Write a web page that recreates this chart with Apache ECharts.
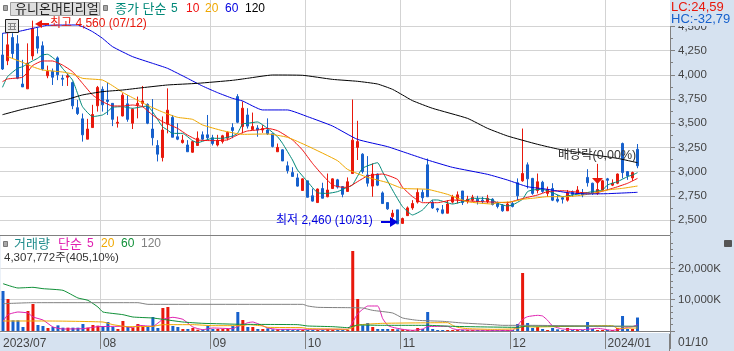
<!DOCTYPE html>
<html>
<head>
<meta charset="utf-8">
<style>
html,body{margin:0;padding:0;background:#d6e2f0;}
#main{width:734px;height:351px;}
</style>
<script src="https://cdn.jsdelivr.net/npm/echarts@6/dist/echarts.min.js"></script>
</head>
<body>
<div id="main"></div>
<script>
// 일봉 [시가, 종가, 저가, 고가]
var candles = [
[4205,4060,4050,4430],[4145,4310,4100,4430],[4385,4220,4170,4430],[4320,3965,3955,4410],[3905,3875,3875,4155],
[3855,4120,3855,4325],[4195,4480,4155,4560],[4395,4275,4220,4490],[4300,4060,4045,4345],[3990,4035,3965,4095],
[4035,3975,3895,4065],[4175,4000,3945,4190],[3965,3955,3885,4000],[3975,3990,3885,4010],[3920,3680,3645,3930],
[3660,3600,3585,3740],[3545,3380,3310,3600],[3335,3440,3335,3545],[3455,3590,3455,3690],[3680,3870,3620,3885],
[3850,3690,3620,3880],[3740,3725,3585,3920],[3705,3540,3470,3705],[3500,3510,3455,3570],[3575,3790,3570,3810],
[3700,3540,3515,3790],[3500,3645,3440,3655],[3690,3705,3550,3775],[3705,3730,3670,3885],[3695,3500,3490,3705],
[3440,3350,3270,3750],[3270,3180,3105,3325],[3145,3430,3105,3570],[3490,3635,3395,3860],[3560,3355,3355,3585],
[3360,3335,3325,3500],[3300,3325,3290,3380],[3275,3205,3205,3325],[3200,3310,3195,3320],[3270,3345,3270,3415],
[3380,3335,3325,3415],[3380,3350,3325,3585],[3350,3290,3270,3380],[3275,3320,3260,3380],[3310,3370,3290,3380],
[3345,3405,3325,3415],[3455,3425,3345,3500],[3775,3510,3500,3800],[3465,3655,3395,3725],[3585,3470,3445,3655],
[3435,3465,3435,3610],[3450,3430,3360,3480],[3430,3445,3400,3480],[3430,3390,3380,3550],[3390,3260,3250,3390],
[3205,3250,3205,3290],[3225,3110,3110,3230],[3060,3010,2980,3105],[2990,2950,2950,3045],[2935,2850,2845,2980],
[2805,2925,2805,2930],[2905,2735,2735,2905],[2750,2695,2690,2825],[2680,2820,2680,2825],[2825,2725,2725,2885],
[2740,2810,2735,2980],[2825,2925,2820,2930],[2915,2840,2825,2925],[2845,2765,2735,2850],[2795,2895,2795,2940],
[2980,3325,2980,3745],[3250,3310,3120,3525],[3180,3000,2980,3190],[2965,2880,2845,3160],[2850,2975,2740,3085],
[2975,2860,2850,2980],[2780,2670,2670,2795],[2680,2615,2605,2680],[2535,2570,2465,2605],[2605,2460,2460,2605],
[2465,2515,2460,2525],[2545,2625,2545,2640],[2625,2670,2605,2705],[2685,2785,2670,2825],[2785,2730,2690,2815],
[3070,2740,2740,3135],[2685,2625,2615,2705],[2615,2605,2580,2625],[2605,2570,2560,2655],[2570,2665,2570,2705],
[2685,2740,2670,2760],[2715,2760,2670,2795],[2800,2680,2655,2800],[2690,2715,2670,2750],[2705,2735,2690,2760],
[2715,2690,2660,2750],[2705,2690,2670,2740],[2690,2725,2670,2760],[2715,2660,2650,2725],[2670,2640,2620,2690],
[2650,2595,2585,2665],[2595,2665,2595,2690],[2670,2640,2630,2690],[2885,2750,2705,2930],[2905,2980,2895,3445],
[3070,2925,2825,3095],[2930,2775,2760,2935],[2805,2895,2775,2980],[2890,2795,2780,2905],[2775,2815,2740,2845],
[2825,2705,2695,2880],[2715,2695,2680,2760],[2730,2715,2670,2740],[2705,2780,2690,2810],[2785,2765,2740,2805],
[2775,2810,2765,2850],[2775,2760,2735,2820],[2940,2885,2845,3025],[2880,2775,2760,2885],[2775,2815,2760,3080],
[2810,2905,2805,2915],[2925,2910,2810,2935],[2860,2880,2850,2920],[2880,2975,2870,2980],[3290,2990,2930,3300],
[3000,2955,2915,3005],[2935,2990,2905,3000],[3230,3060,3035,3285]
];

// 거래량 (K주)
var volumes = [
12780,10225,3410,3410,1280,6390,8625,1915,1600,960,1280,1810,1065,1065,1065,1065,2235,1065,1915,1705,
1600,2875,1280,640,3195,1280,960,2235,1490,1280,4470,960,7350,7670,1600,1280,640,640,960,425,
425,1600,640,640,640,640,1600,6070,3515,1280,1280,640,640,850,530,530,530,530,110,110,
110,110,110,110,110,640,110,110,110,110,25560,10225,1810,2555,1280,640,640,640,640,530,
530,110,110,960,640,6070,640,320,320,320,110,110,110,110,110,60,60,110,110,110,
110,110,110,2235,18530,2555,960,1280,640,320,960,530,110,960,320,320,110,2875,640,320,
320,320,110,960,4790,640,640,4308
];

// 이동평균 [봉 번호, 값] - 그림에서 읽은 값
var ma5 = [[0,3871],[1,3981],[3,4067],[4,4084],[6,4143],[7,4170],[8,4205],[9,4212],[11,4136],[12,4067],[14,3946],[15,3809],[16,3671],[18,3568],[20,3585],[21,3619],[22,3664],[24,3671],[26,3654],[28,3671],[29,3678],[30,3619],[32,3464],[33,3430],[34,3395],[36,3395],[38,3320],[39,3299],[42,3344],[44,3344],[46,3368],[47,3395],[48,3492],
[49,3499],[51,3513],[53,3447],[55,3361],[56,3292],[58,3120],[59,3017],[61,2896],[63,2782],[65,2775],[67,2793],[69,2838],[70,2862],[72,3034],[75,3092],[76,2999],[78,2810],[80,2638],[82,2552],[84,2603],[86,2707],[87,2707],[90,2665],[92,2689],[94,2724],[96,2724],
[98,2707],[99,2672],[101,2645],[102,2655],[104,2714],[105,2793],[106,2810],[108,2817],[110,2782],[112,2741],[114,2758],[116,2775],[118,2793],[120,2810],[121,2862],[123,2896],[125,2948],[126,2965],[127,2989]];
var ma10 = [[0,3929],[1,3957],[4,3974],[5,4026],[6,4095],[8,4143],[10,4143],[12,4101],[14,4033],[16,3912],[18,3792],[20,3723],[22,3678],[24,3678],[26,3688],[28,3671],[30,3585],[32,3516],[35,3447],[37,3378],[39,3327],[42,3320],[45,3327],[46,3354],[48,3402],
[49,3420],[51,3430],[53,3447],[55,3423],[58,3327],[60,3223],[62,3085],[64,2965],[66,2862],[68,2838],[69,2838],[71,2896],[73,2955],[76,2975],[79,2920],[80,2838],[82,2741],[84,2679],[87,2679],[90,2707],[92,2700],[96,2689],
[99,2683],[101,2679],[103,2707],[105,2734],[107,2758],[109,2793],[112,2803],[114,2793],[118,2775],[122,2827],[125,2879],[127,2930]];
var ma20 = [[1,4188],[4,4129],[6,4084],[8,4050],[12,4029],[14,4009],[16,3964],[20,3946],[22,3888],[24,3819],[26,3764],[29,3685],[32,3616],[35,3561],[38,3540],[40,3482],[44,3423],[48,3385],
[53,3389],[57,3354],[61,3265],[67,3113],[69,3023],[73,2941],[77,2886],[80,2827],[85,2817],[89,2765],[93,2689],[98,2665],
[99,2679],[102,2689],[104,2714],[106,2724],[109,2741],[113,2741],[117,2765],[121,2810],[124,2827],[127,2851]];
var ma60 = [[0,4429],[3,4446],[6,4480],[9,4511],[15,4515],[18,4446],[20,4377],[22,4291],[26,4188],[30,4119],[33,4067],[37,3964],[40,3884],[43,3816],[46,3757],[48,3730],
[52,3637],[57,3637],[61,3568],[66,3471],[71,3333],[77,3258],[81,3189],[85,3120],[90,3044],[97,2972],
[101,2913],[105,2844],[109,2817],[113,2782],[117,2769],[121,2772],[127,2786]];
var ma120 = [[0,3588],[4,3643],[8,3688],[13,3747],[16,3792],[20,3826],[24,3843],[28,3867],[33,3895],[39,3912],[46,3943],[49,3964],
[54,3998],[60,3995],[66,3953],[71,3933],[75,3905],[78,3850],[80,3792],[82,3733],[86,3654],[93,3550],[97,3447],
[101,3368],[107,3282],[111,3234],[117,3182],[123,3137],[127,3092]];

var volMa5 = [[0,3090],[1,5220],[3,6070],[5,5750],[6,4470],[8,3515],[10,1280],[12,640],[16,745],[19,1385],[24,1490],[26,1065],[27,1810],[30,1490],[32,3730],[34,4370],[36,3730],[38,1280],[40,425],[42,960],[46,745],[47,1490],[48,2025],
[49,2660],[50,2875],[51,2340],[53,960],[55,530],[69,530],[70,2875],[71,5540],[72,6920],[73,7990],[75,7990],[76,3940],[77,1810],[78,1170],[80,530],[82,210],[84,640],[85,1385],[89,1490],[90,745],[91,425],[98,210],
[102,210],[103,1810],[104,3730],[105,4580],[107,5005],[108,4790],[109,3410],[110,1600],[112,640],[116,425],[119,850],[122,210],[124,745],[125,1170],[126,1385],[127,2025]];
var volMa20 = [[0,3195],[9,3195],[20,2875],[22,2025],[25,1385],[30,1490],[32,2025],[38,2025],[42,1705],[48,1705],
[49,2025],[52,1600],[53,1170],[60,1065],[61,745],[66,640],[69,530],[71,1915],[76,2450],[89,2660],[90,1810],[91,1170],[93,745],[98,530],
[103,745],[104,1490],[106,1280],[121,1705],[122,1705],[123,850],[127,960]];
var volMa60 = [[0,15120],[3,13740],[6,13950],[8,13525],[12,12990],[15,10545],[17,9800],[19,7670],[20,6070],[24,5220],[26,4470],[30,4150],[32,3730],[36,2875],[40,2450],[48,2130],
[59,2025],[61,1600],[66,1385],[69,1065],[71,1915],[76,1810],[85,1810],[90,1490],[97,1280],
[103,1170],[105,1600],[127,1490]];
var volMa120 = [[0,8730],[6,9050],[27,9050],[29,8520],[60,8520],[61,7990],[63,7560],[69,7455],[72,7350],[74,6600],[78,5750],[80,4150],[83,3410],[88,3090],[92,2555],[98,2025],
[100,1810],[106,1810],[121,1490],[127,1490]];

// 월 구분 눈금
var monthIdx = [0,20,42,61,80,102,121];
var monthLabels = ['2023/07','08','09','10','11','12','2024/01'];
var priceTicks = [2500,2750,3000,3250,3500,3750,4000,4250,4500];
var priceMinor = [2375,2625,2875,3125,3375,3625,3875,4125,4375,4625];
var volTicks = [0,10000,20000];
var volLabels = [10000,20000];
var volMinor = [2000,4000,6000,8000,12000,14000,16000,18000,22000,24000,26000,28000];

var categories = [];
for (var i = 0; i < 134; i++) {
  var m = monthIdx.indexOf(i);
  categories.push(m >= 0 ? monthLabels[m] : String(i));
}
function isMonth(i) { return monthIdx.indexOf(i) >= 0; }

var RED = '#e8180c', BLUE = '#1660cc', GRID = '#d3d3d3', AXIS = '#808080', BAND = '#d6e2f0';
var FONT = '"Liberation Sans","Noto Sans CJK KR",sans-serif';

function lineSeries(name, data, color, xi, yi) {
  return {
    name: name, type: 'line', data: data, xAxisIndex: xi, yAxisIndex: yi,
    symbol: 'none', smooth: 0.15, silent: true, z: 3,
    lineStyle: { color: color, width: 1 }
  };
}
function txt(x, y, s, color, size) {
  return { type: 'text', x: x, y: y, z: 100,
    style: { text: s, fill: color, font: (size || 12) + 'px ' + FONT, verticalAlign: 'middle' } };
}
function poly(points, color) {
  return { type: 'polygon', z: 100, shape: { points: points }, style: { fill: color } };
}
function box(x, y, w, h, fill, stroke) {
  return { type: 'rect', z: 99, shape: { x: x, y: y, width: w, height: h }, style: { fill: fill, stroke: stroke || null, lineWidth: 1 } };
}

var chart = echarts.init(document.getElementById('main'));
chart.setOption({
  animation: false,
  backgroundColor: BAND,
  grid: [
    { left: 0, top: 0, width: 670, height: 235, show: true, backgroundColor: '#fff', borderWidth: 0 },
    { left: 0, top: 236, width: 670, height: 97, show: true, backgroundColor: '#fff', borderWidth: 0 }
  ],
  xAxis: [
    { type: 'category', gridIndex: 0, data: categories, boundaryGap: true,
      axisLine: { show: false }, axisTick: { show: false }, axisLabel: { show: false },
      splitLine: { show: true, interval: function (i) { return isMonth(i) && i > 0; }, lineStyle: { color: GRID } } },
    { type: 'category', gridIndex: 1, data: categories, boundaryGap: true,
      axisLine: { show: true, lineStyle: { color: AXIS } },
      axisTick: { show: true, length: 18, interval: function (i) { return isMonth(i) && i > 0; }, lineStyle: { color: AXIS } },
      axisLabel: { show: true, interval: function (i) { return isMonth(i); }, align: 'left', margin: 5,
        color: '#444', fontSize: 12, fontFamily: 'Liberation Sans' },
      splitLine: { show: true, interval: function (i) { return isMonth(i) && i > 0; }, lineStyle: { color: GRID } } }
  ],
  yAxis: [
    { type: 'value', gridIndex: 0, position: 'right', min: 2345, max: 4773,
      axisLine: { show: true, lineStyle: { color: AXIS, width: 1 } },
      axisTick: { show: true, length: 5, customValues: priceTicks, lineStyle: { color: AXIS } },
      axisLabel: { show: true, customValues: priceTicks, margin: 8, color: '#444', fontSize: 11.5, fontFamily: 'Liberation Sans',
        formatter: function (v) { return v.toLocaleString('en-US'); } },
      splitLine: { show: true, lineStyle: { color: GRID } } },
    { type: 'value', gridIndex: 0, position: 'right', min: 2345, max: 4773,
      axisLine: { show: false }, axisLabel: { show: false }, splitLine: { show: false },
      axisTick: { show: true, length: 3, customValues: priceMinor, lineStyle: { color: AXIS } } },
    { type: 'value', gridIndex: 1, position: 'right', min: -639, max: 30351,
      axisLine: { show: true, lineStyle: { color: AXIS, width: 1 } },
      axisTick: { show: true, length: 5, customValues: volTicks, lineStyle: { color: AXIS } },
      axisLabel: { show: true, customValues: volLabels, margin: 8, color: '#444', fontSize: 11.5, fontFamily: 'Liberation Sans',
        formatter: function (v) { return v.toLocaleString('en-US') + 'K'; } },
      splitLine: { show: true, lineStyle: { color: GRID } } },
    { type: 'value', gridIndex: 1, position: 'right', min: -639, max: 30351,
      axisLine: { show: false }, axisLabel: { show: false }, splitLine: { show: false },
      axisTick: { show: true, length: 3, customValues: volMinor, lineStyle: { color: AXIS } } }
  ],
  series: [
    { name: '일봉', type: 'candlestick', data: candles, xAxisIndex: 0, yAxisIndex: 0, barWidth: 3, z: 2, silent: true,
      itemStyle: { color: RED, color0: BLUE, borderColor: RED, borderColor0: BLUE, borderWidth: 1 } },
    lineSeries('5', ma5, '#008878', 0, 0),
    lineSeries('10', ma10, '#f01010', 0, 0),
    lineSeries('20', ma20, '#f0a800', 0, 0),
    lineSeries('60', ma60, '#0000e0', 0, 0),
    lineSeries('120', ma120, '#000000', 0, 0),
    { name: '거래량', type: 'bar', data: volumes, xAxisIndex: 1, yAxisIndex: 2, barWidth: 3, barMinHeight: 1, z: 2, silent: true,
      itemStyle: { color: function (p) { var c = candles[p.dataIndex]; return c[1] >= c[0] ? RED : BLUE; } } },
    lineSeries('v5', volMa5, '#e020b0', 1, 2),
    lineSeries('v20', volMa20, '#f0a800', 1, 2),
    lineSeries('v60', volMa60, '#109038', 1, 2),
    lineSeries('v120', volMa120, '#808080', 1, 2)
  ],
  graphic: { elements: [
    // 상단 범례
    box(3.5, 5.5, 4, 5, '#a8a8a8', '#777'),
    box(10.5, 2.5, 89, 13, '#dedede', '#a0a0a0'),
    txt(15, 9, '유니온머티리얼', '#222', 13),
    box(103.5, 5.5, 4, 5, '#a8a8a8', '#777'),
    txt(115, 9, '종가 단순', '#008878', 13),
    txt(171, 9, '5', '#008878'),
    txt(186, 9, '10', '#f01010'),
    txt(205, 9, '20', '#f0a800'),
    txt(225, 9, '60', '#0000e0'),
    txt(245, 9, '120', '#000'),
    // 표 아이콘
    box(5.5, 19.5, 13, 13, '#e8e8e8', '#222'),
    box(8, 23, 8, 1, '#888'), box(8, 26, 8, 1, '#888'), box(8, 29, 8, 1, '#888'),
    box(10, 23, 1, 7, '#888'), box(14, 23, 1, 7, '#888'),
    // 최고/최저 표시
    box(42, 23, 7, 2, RED),
    poly([[35, 24], [42, 20], [42, 28]], RED),
    txt(50, 24, '최고 4,560 (07/12)', RED),
    txt(276, 221, '최저 2,460 (10/31)', '#0000e0'),
    box(381, 221, 10, 2, '#0000e0'),
    poly([[398, 222], [390, 217], [390, 227]], '#0000e0'),
    // 배당락
    txt(558, 156, '배당락(0,00%)', '#333', 12.5),
    poly([[592, 178], [603, 178], [597.5, 184]], RED),
    // 우측 상단
    box(670, 0, 64, 26, BAND),
    txt(671, 7, 'LC:24,59', RED, 13),
    txt(671, 19, 'HC:-32,79', '#1660cc', 13),
    // 거래량 범례
    box(0, 235, 670, 1, AXIS),
    box(3.5, 241.5, 4, 5, '#a8a8a8', '#777'),
    txt(14, 244, '거래량', '#208c8c', 13),
    txt(58, 244, '단순', '#e020b0', 13),
    txt(87, 244, '5', '#e020b0'),
    txt(101, 244, '20', '#f0a800'),
    txt(121, 244, '60', '#109038'),
    txt(141, 244, '120', '#808080'),
    txt(4, 258, '4,307,772주(405,10%)', '#333', 11.5),
    // 확대 버튼
    box(724.5, 240.5, 7, 6, '#555', '#555'),
    // 우측 하단 날짜
    box(669, 334, 1, 17, AXIS),
    { type: 'text', x: 678, y: 343, z: 100, style: { text: '01/10', fill: '#444', font: '12px "Liberation Sans"', verticalAlign: 'middle' } }
  ] }
});
</script>
</body>
</html>
